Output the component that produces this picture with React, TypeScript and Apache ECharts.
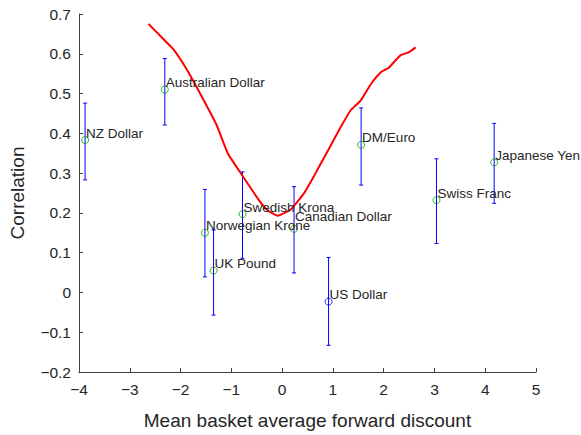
import React, { useEffect, useRef } from "react";
import * as echarts from "echarts";

const currencies = [
  "NZ Dollar",
  "Australian Dollar",
  "Norwegian Krone",
  "UK Pound",
  "Swedish Krona",
  "Canadian Dollar",
  "US Dollar",
  "DM/Euro",
  "Swiss Franc",
  "Japanese Yen",
];
const forwardDiscount = [-3.88, -2.31, -1.52, -1.35, -0.78, 0.235, 0.915, 1.556, 3.04, 4.176];
const correlation = [0.383, 0.51, 0.15, 0.055, 0.197, 0.16, -0.023, 0.371, 0.232, 0.327];
const upperBound = [0.476, 0.588, 0.259, 0.157, 0.303, 0.266, 0.088, 0.464, 0.336, 0.425];
const lowerBound = [0.283, 0.421, 0.039, -0.057, 0.086, 0.049, -0.133, 0.27, 0.123, 0.224];

const curveX = [-2.63, -2.34, -2.14, -1.88, -1.56, -1.29, -1.07, -0.8, -0.45, -0.28, -0.09, 0.18, 0.44, 0.63, 0.77, 0.93, 1.16, 1.35, 1.55, 1.75, 1.94, 2.1, 2.33, 2.5, 2.63];
const curveY = [0.675, 0.637, 0.611, 0.561, 0.487, 0.421, 0.35, 0.297, 0.231, 0.206, 0.193, 0.21, 0.251, 0.293, 0.326, 0.363, 0.417, 0.458, 0.483, 0.524, 0.553, 0.565, 0.596, 0.604, 0.616];

const FONT = "Liberation Sans, Arial, Helvetica, sans-serif";
const fmt = (v: number, d: number) => {
  if (Math.abs(v) < 1e-9) return "0";
  const s = d > 0 ? v.toFixed(d) : String(Math.round(v));
  return s.replace("-", "\u2212");
};

export default function App() {
  const ref = useRef<HTMLDivElement>(null);
  useEffect(() => {
    if (!ref.current) return;
    const chart = echarts.init(ref.current, null, { renderer: "svg" });
    const errData = currencies.map((c, i) => [forwardDiscount[i], lowerBound[i], upperBound[i]]);
    const labelData = currencies.map((c, i) => [forwardDiscount[i], correlation[i], c]);
    const greenPts = currencies
      .map((c, i) => [forwardDiscount[i], correlation[i], c])
      .filter((d) => d[2] !== "US Dollar");
    const bluePts = currencies
      .map((c, i) => [forwardDiscount[i], correlation[i], c])
      .filter((d) => d[2] === "US Dollar");

    chart.setOption({
      animation: false,
      grid: { left: 77, right: 45, top: 14, bottom: 58, containLabel: false },
      xAxis: {
        type: "value",
        min: -4,
        max: 5,
        interval: 1,
        name: "Mean basket average forward discount",
        nameLocation: "middle",
        nameGap: 39,
        nameTextStyle: { fontSize: 19, color: "#262626", fontFamily: FONT },
        axisLine: { show: true, onZero: false, lineStyle: { color: "#404040", width: 1 } },
        axisTick: { show: true, inside: true, length: 4, lineStyle: { color: "#404040" } },
        axisLabel: { fontSize: 15.5, color: "#262626", fontFamily: FONT, margin: 9, formatter: (v: number) => fmt(v, 0) },
        splitLine: { show: false },
      },
      yAxis: {
        type: "value",
        min: -0.2,
        max: 0.7,
        interval: 0.1,
        name: "Correlation",
        nameLocation: "middle",
        nameGap: 52,
        nameRotate: 90,
        nameTextStyle: { fontSize: 19, color: "#262626", fontFamily: FONT },
        axisLine: { show: true, onZero: false, lineStyle: { color: "#404040", width: 1 } },
        axisTick: { show: true, inside: true, length: 4, lineStyle: { color: "#404040" } },
        axisLabel: { fontSize: 15.5, color: "#262626", fontFamily: FONT, margin: 8, formatter: (v: number) => fmt(v, 1) },
        splitLine: { show: false },
      },
      series: [
        {
          type: "custom",
          name: "errorbars",
          data: errData,
          encode: { x: 0, y: [1, 2] },
          renderItem: (params: any, api: any) => {
            const x = api.value(0);
            const lo = api.coord([x, api.value(1)]);
            const hi = api.coord([x, api.value(2)]);
            const w = 2;
            const style = { stroke: "#0000ff", lineWidth: 1 };
            return {
              type: "group",
              children: [
                { type: "line", shape: { x1: lo[0], y1: lo[1], x2: hi[0], y2: hi[1] }, style },
                { type: "line", shape: { x1: lo[0] - w, y1: lo[1], x2: lo[0] + w, y2: lo[1] }, style },
                { type: "line", shape: { x1: hi[0] - w, y1: hi[1], x2: hi[0] + w, y2: hi[1] }, style },
              ],
            };
          },
          z: 2,
        },
        {
          type: "line",
          name: "curve",
          data: curveX.map((x, i) => [x, curveY[i]]),
          showSymbol: false,
          symbol: "none",
          smooth: 0.15,
          lineStyle: { color: "#ff0000", width: 2 },
          z: 3,
        },
        {
          type: "scatter",
          name: "points",
          data: greenPts,
          symbol: "circle",
          symbolSize: 7,
          itemStyle: { color: "rgba(0,0,0,0)", borderColor: "#00a000", borderWidth: 1 },
          z: 4,
        },
        {
          type: "scatter",
          name: "us",
          data: bluePts,
          symbol: "circle",
          symbolSize: 7,
          itemStyle: { color: "rgba(0,0,0,0)", borderColor: "#0000ff", borderWidth: 1 },
          z: 4,
        },
        {
          type: "custom",
          name: "labels",
          data: labelData,
          encode: { x: 0, y: 1 },
          renderItem: (params: any, api: any) => {
            const p = api.coord([api.value(0), api.value(1)]);
            const name = labelData[params.dataIndex][2] as string;
            const dy = name === "Canadian Dollar" ? -12 : -7;
            return {
              type: "text",
              x: p[0] + 1,
              y: p[1] + dy,
              style: {
                text: name,
                fontSize: 13.5,
                fontFamily: FONT,
                fill: "#262626",
                align: "left",
                verticalAlign: "middle",
              },
            };
          },
          z: 5,
        },
      ],
    });
    return () => chart.dispose();
  }, []);
  return <div ref={ref} style={{ width: 581, height: 435, position: "absolute", left: 0, top: 0 }} />;
}
